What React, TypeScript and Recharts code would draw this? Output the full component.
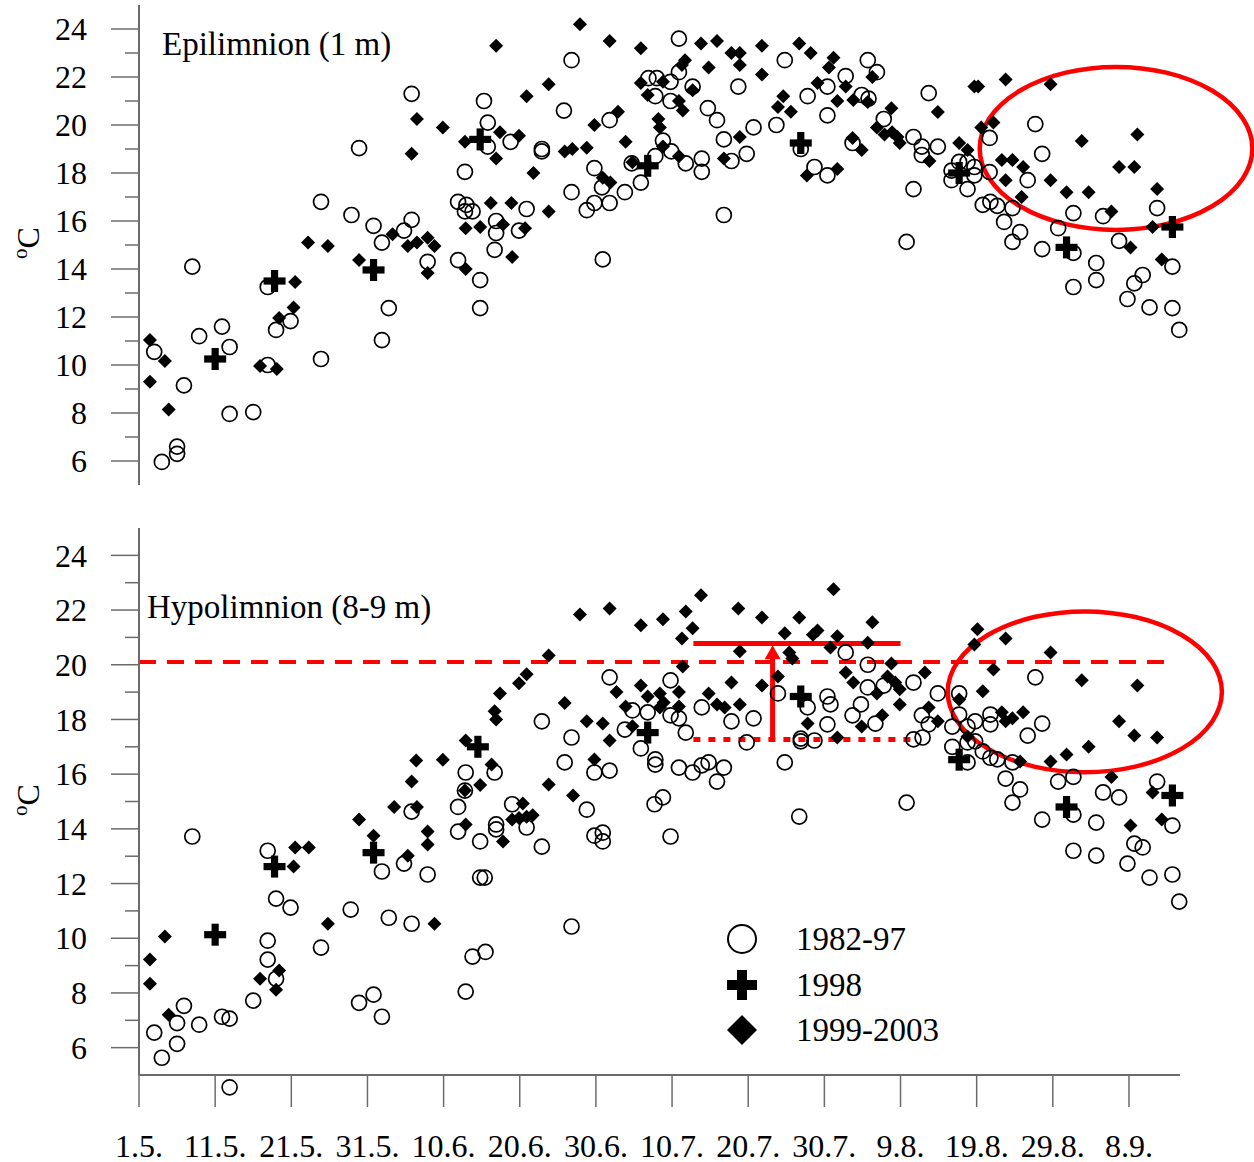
import { ScatterChart, Scatter, XAxis, YAxis, ReferenceLine, ReferenceArea, ReferenceDot, Legend } from 'recharts';

const FONT = '"Liberation Serif", "Times New Roman", serif';
const AXIS = '#6b6b6b';
const RED = '#ff0000';

// x = days since 1 May, y = water temperature (°C)
const DATE_TICKS = [0, 10, 20, 30, 40, 50, 60, 70, 80, 90, 100, 110, 120, 130];
const DATE_LABELS = ['1.5.', '11.5.', '21.5.', '31.5.', '10.6.', '20.6.', '30.6.', '10.7.', '20.7.', '30.7.', '9.8.', '19.8.', '29.8.', '8.9.'];
const TEMP_TICKS = [6, 7, 8, 9, 10, 11, 12, 13, 14, 15, 16, 17, 18, 19, 20, 21, 22, 23, 24];
const SERIES_NAMES = ['1982-97', '1998', '1999-2003'];

const epiOld: [number, number][] = [
  [2.0, 10.55], [3.0, 5.96], [5.0, 6.6], [5.0, 6.3], [5.9, 9.15], [7.0, 14.1], [7.9, 11.2], [10.9, 11.6], [11.9, 10.75], [11.9, 7.96],
  [15.0, 8.04], [16.9, 13.25], [16.9, 10.0], [18.0, 11.46], [19.9, 11.83], [23.9, 10.25], [23.9, 16.8], [27.9, 16.25], [28.9, 19.04], [30.8, 15.8],
  [31.9, 15.1], [31.9, 11.04], [32.8, 12.37], [34.8, 15.6], [35.8, 21.3], [35.8, 16.05], [37.9, 14.3], [41.9, 16.8], [43.0, 16.67], [42.8, 16.4],
  [43.8, 16.4], [42.8, 18.05], [41.9, 14.37], [44.8, 13.54], [44.8, 12.37], [45.3, 21.0], [45.8, 20.1], [45.8, 19.1], [46.7, 14.8], [46.9, 16.0],
  [46.9, 15.5], [49.9, 15.6], [48.8, 19.3], [50.9, 16.5], [52.9, 19.0], [52.9, 18.9], [55.8, 20.6], [56.8, 22.7], [56.8, 17.2], [58.8, 16.45],
  [59.8, 16.75], [61.8, 16.75], [59.8, 18.2], [60.8, 17.4], [60.9, 14.4], [61.8, 20.2], [63.8, 17.2], [64.7, 18.4], [65.9, 17.6], [66.9, 21.95],
  [68.0, 21.95], [69.8, 21.8], [70.9, 22.2], [67.8, 21.2], [69.8, 21.0], [68.8, 19.35], [69.9, 18.9], [67.8, 18.7], [70.9, 23.6], [71.8, 18.4],
  [72.7, 21.6], [73.9, 18.6], [73.9, 18.05], [74.7, 20.7], [75.9, 20.2], [76.8, 19.4], [76.8, 16.25], [77.8, 18.5], [78.7, 21.6], [79.8, 18.8],
  [80.7, 19.9], [83.7, 20.0], [84.8, 22.7], [86.9, 19.0], [87.8, 21.2], [88.7, 18.25], [90.4, 21.6], [90.4, 20.4], [90.4, 17.9], [92.8, 22.04],
  [95.7, 22.7], [96.9, 22.2], [94.9, 21.25], [95.8, 21.1], [97.8, 20.25], [93.7, 19.25], [101.7, 19.5], [102.8, 19.1], [102.8, 18.75], [104.9, 19.1],
  [103.7, 21.33], [101.7, 17.33], [100.8, 15.13], [106.7, 18.1], [107.7, 18.46], [108.8, 18.46], [109.7, 18.25], [106.7, 17.7], [108.8, 17.33], [109.7, 17.9],
  [111.7, 18.04], [111.7, 19.46], [117.7, 20.04], [118.6, 18.8], [116.7, 17.7], [110.8, 16.67], [111.8, 16.8], [112.7, 16.63], [114.7, 16.54], [113.6, 15.96],
  [115.7, 15.54], [114.7, 15.13], [120.7, 15.7], [118.6, 14.83], [122.7, 16.33], [126.6, 16.2], [128.7, 15.17], [133.7, 16.54], [122.7, 14.67], [125.7, 14.25],
  [122.7, 13.25], [125.7, 13.54], [129.8, 12.75], [130.7, 13.4], [131.8, 13.75], [132.7, 12.4], [135.7, 12.37], [136.6, 11.46], [135.7, 14.1],
];

const epi1998: [number, number][] = [
  [10.0, 10.25], [17.8, 13.5], [30.8, 13.96], [44.8, 19.4], [66.8, 18.3], [86.9, 19.25], [107.7, 18.0], [121.8, 14.9], [135.7, 15.75],
];

const epiNew: [number, number][] = [
  [1.44, 11.04], [3.4, 10.17], [1.44, 9.3], [3.9, 8.15], [15.9, 9.96], [18.1, 9.83], [20.5, 13.46], [20.3, 12.4], [18.4, 11.96], [22.2, 15.1],
  [24.8, 14.96], [28.9, 14.37], [33.3, 15.45], [35.3, 14.96], [36.5, 15.1], [37.9, 15.3], [38.8, 14.96], [37.9, 13.83], [36.5, 20.25], [39.9, 19.9],
  [35.8, 18.8], [42.8, 19.3], [42.9, 15.7], [44.8, 15.75], [42.9, 14.0], [57.9, 24.2], [46.9, 23.3], [61.8, 23.5], [65.9, 23.2], [73.8, 23.4],
  [75.9, 23.5], [77.8, 23.0], [78.9, 23.0], [78.9, 22.5], [81.8, 23.3], [81.8, 22.1], [86.7, 23.4], [88.2, 23.0], [90.6, 22.4], [89.1, 21.75],
  [53.8, 21.7], [50.9, 21.2], [71.7, 22.7], [71.3, 22.5], [74.8, 22.4], [65.9, 21.75], [66.8, 21.25], [68.8, 21.8], [72.7, 21.45], [70.9, 21.0],
  [71.4, 20.6], [62.9, 20.55], [59.8, 20.0], [68.2, 20.25], [68.4, 19.9], [84.6, 21.2], [83.9, 20.75], [85.6, 20.55], [78.9, 19.5], [63.9, 19.3],
  [47.4, 19.7], [49.9, 19.55], [46.9, 18.6], [51.8, 18.0], [55.9, 18.9], [56.9, 19.0], [58.8, 19.05], [68.8, 19.1], [70.9, 18.7], [64.8, 18.45],
  [76.8, 18.6], [87.7, 17.9], [60.9, 17.8], [61.9, 17.6], [46.2, 16.75], [48.9, 16.75], [53.8, 16.4], [47.8, 15.85], [50.7, 15.7], [49.0, 14.5],
  [91.2, 22.8], [96.3, 22.0], [92.8, 21.6], [91.7, 21.0], [93.8, 21.04], [95.7, 20.96], [98.8, 20.7], [104.9, 20.54], [96.9, 19.9], [97.9, 19.6],
  [98.9, 19.7], [99.9, 19.25], [99.6, 19.5], [93.7, 19.46], [94.9, 18.96], [103.8, 18.5], [91.7, 18.17], [109.7, 21.6], [110.2, 21.6], [113.8, 21.9],
  [119.7, 21.7], [110.6, 19.9], [112.2, 20.1], [123.8, 19.33], [131.1, 19.6], [107.7, 19.25], [108.8, 18.96], [113.3, 18.54], [114.7, 18.54], [116.1, 18.25],
  [113.8, 17.7], [119.7, 17.7], [121.8, 17.2], [124.7, 17.2], [128.7, 18.25], [130.7, 18.25], [133.7, 17.33], [115.9, 17.0], [127.7, 16.4], [133.1, 15.75],
  [130.2, 14.9], [134.3, 14.4],
];

const hypoOld: [number, number][] = [
  [2.0, 6.55], [3.0, 5.63], [5.0, 6.9], [5.0, 6.14], [5.9, 7.53], [7.0, 13.72], [7.9, 6.84], [10.9, 7.13], [11.9, 7.06], [15.0, 7.72],
  [16.9, 13.2], [16.9, 9.91], [16.9, 9.22], [18.0, 11.45], [18.0, 8.52], [19.9, 11.12], [23.9, 9.66], [27.8, 11.05], [28.9, 7.64], [30.8, 7.94],
  [31.9, 7.13], [31.9, 12.44], [32.8, 10.75], [34.8, 12.73], [35.8, 10.53], [35.8, 14.63], [37.9, 12.33], [41.9, 14.8], [41.9, 13.9], [42.9, 16.06],
  [42.8, 15.4], [42.9, 8.05], [43.8, 9.33], [45.5, 9.5], [44.8, 13.54], [44.8, 12.22], [45.4, 12.22], [46.7, 16.06], [46.9, 14.16], [46.9, 13.98],
  [49.0, 14.9], [50.9, 14.05], [52.9, 13.35], [52.9, 17.93], [55.9, 16.43], [56.8, 17.34], [56.8, 10.43], [58.8, 14.7], [59.8, 16.06], [61.8, 16.13],
  [59.8, 13.75], [60.9, 13.86], [60.9, 13.54], [61.8, 19.54], [63.8, 17.63], [64.8, 18.33], [65.9, 16.94], [66.8, 18.26], [67.8, 16.54], [67.8, 16.35],
  [68.8, 15.15], [67.7, 14.9], [69.8, 19.43], [69.8, 18.15], [70.9, 18.04], [70.9, 16.24], [71.8, 17.52], [72.7, 16.06], [73.9, 16.32], [74.8, 16.43],
  [73.9, 18.44], [69.8, 13.72], [75.9, 15.73], [76.8, 16.24], [77.8, 17.93], [79.8, 17.16], [80.7, 18.04], [83.9, 18.95], [84.8, 16.43], [86.9, 17.3],
  [86.9, 17.2], [88.7, 17.23], [87.8, 18.44], [86.7, 14.45], [90.4, 18.84], [90.4, 17.82], [92.8, 20.45], [95.7, 20.0], [95.7, 19.17], [97.8, 19.24],
  [101.7, 19.35], [104.9, 18.95], [90.8, 18.55], [94.8, 18.55], [93.7, 18.15], [96.7, 17.85], [102.8, 18.15], [103.7, 17.82], [101.7, 17.27], [102.9, 17.34],
  [107.7, 18.95], [117.7, 19.54], [106.8, 17.74], [107.7, 18.18], [108.8, 17.74], [109.8, 17.93], [111.8, 18.18], [111.8, 17.82], [118.6, 17.85], [116.7, 17.41],
  [106.8, 17.0], [108.8, 17.16], [109.8, 17.2], [110.8, 16.83], [111.8, 16.6], [112.7, 16.54], [114.7, 16.43], [108.8, 16.43], [122.7, 15.9], [120.7, 15.73],
  [113.8, 15.84], [115.7, 15.44], [114.7, 14.96], [126.6, 15.33], [128.7, 15.15], [133.7, 15.73], [100.8, 14.96], [122.7, 14.52], [118.6, 14.34], [125.7, 14.23],
  [135.7, 14.12], [122.7, 13.2], [125.7, 13.02], [130.7, 13.46], [131.8, 13.32], [129.8, 12.73], [132.7, 12.22], [135.7, 12.33], [136.6, 11.34],
];

// one 1982-97 reading sits just below the 5 °C axis floor
const hypoOldBelowAxis: [number, number][] = [[11.9, 4.55]];

const hypo1998: [number, number][] = [
  [10.0, 10.13], [17.8, 12.62], [30.8, 13.13], [44.5, 17.0], [66.8, 17.52], [86.9, 18.84], [107.7, 16.53], [121.8, 14.8], [135.7, 15.22],
];

const hypoNew: [number, number][] = [
  [1.44, 9.22], [1.44, 8.34], [3.4, 10.06], [3.9, 7.2], [15.9, 8.52], [18.0, 8.12], [18.4, 8.82], [20.5, 13.32], [22.3, 13.32], [20.3, 12.62],
  [24.8, 10.53], [28.9, 14.34], [30.8, 13.75], [33.5, 14.8], [36.5, 14.8], [35.3, 13.02], [37.9, 13.9], [37.9, 13.43], [38.8, 10.53], [35.8, 15.73],
  [36.4, 16.5], [39.9, 16.53], [42.9, 17.23], [42.8, 15.4], [44.8, 15.6], [42.9, 14.16], [46.3, 16.35], [47.8, 13.54], [49.0, 14.34], [49.9, 14.4],
  [50.9, 14.44], [51.7, 14.5], [50.4, 14.93], [73.8, 22.54], [57.9, 21.84], [61.8, 22.06], [65.9, 21.44], [68.8, 21.66], [71.8, 21.95], [72.7, 21.33],
  [71.3, 20.96], [78.7, 22.06], [81.8, 21.73], [86.7, 21.73], [84.8, 21.15], [88.5, 21.1], [89.1, 21.25], [78.9, 20.49], [85.4, 20.45], [85.8, 20.23],
  [53.8, 20.34], [71.4, 19.94], [50.9, 19.65], [49.9, 19.32], [47.4, 18.95], [46.7, 18.3], [46.9, 18.0], [55.9, 18.6], [62.7, 19.0], [65.9, 19.24],
  [66.8, 18.84], [68.4, 18.95], [68.9, 18.62], [68.4, 18.44], [70.9, 19.0], [70.9, 18.47], [63.9, 18.47], [74.8, 18.95], [75.9, 18.55], [76.9, 18.44],
  [78.9, 18.55], [77.8, 19.35], [81.8, 19.24], [83.9, 19.57], [87.8, 17.85], [58.8, 17.93], [60.9, 17.85], [61.8, 17.23], [64.8, 17.75], [59.8, 16.54],
  [53.8, 15.62], [57.0, 15.22], [91.2, 22.76], [96.3, 21.55], [91.7, 21.04], [95.7, 20.8], [90.8, 20.63], [98.8, 20.05], [92.8, 19.72], [93.8, 19.35],
  [103.2, 19.72], [98.3, 19.57], [99.3, 19.35], [99.9, 19.1], [96.9, 18.95], [99.9, 18.55], [97.6, 18.15], [94.9, 17.74], [91.7, 17.34], [103.7, 18.44],
  [104.9, 17.93], [110.1, 21.3], [109.7, 20.74], [113.8, 20.96], [119.7, 20.45], [107.7, 18.73], [110.8, 19.03], [112.2, 19.83], [123.8, 19.43], [131.1, 19.24],
  [113.3, 18.26], [113.8, 17.93], [114.7, 18.04], [116.1, 18.26], [128.7, 17.93], [130.7, 17.41], [133.7, 17.34], [124.7, 17.0], [121.8, 16.72], [119.7, 16.46],
  [115.7, 16.46], [108.8, 17.38], [127.7, 15.9], [133.1, 15.33], [130.2, 14.12], [134.3, 14.34],
];

const toPts = (arr: [number, number][]) => arr.map(([x, y]) => ({ x, y }));

const Ring = (p: any) => <circle cx={p.cx} cy={p.cy} r={7.5} fill="none" stroke="#000" strokeWidth={1.7} />;

const Diamond = (p: any) => {
  const s = 7;
  return <polygon points={`${p.cx},${p.cy - s} ${p.cx + s},${p.cy} ${p.cx},${p.cy + s} ${p.cx - s},${p.cy}`} fill="#000" />;
};

const Cross = (p: any) => {
  const a = 11;
  const t = 3.6;
  return (
    <g fill="#000">
      <rect x={p.cx - a} y={p.cy - t} width={2 * a} height={2 * t} />
      <rect x={p.cx - t} y={p.cy - a} width={2 * t} height={2 * a} />
    </g>
  );
};

const YTick = (p: any) => {
  const v = p.payload.value;
  const major = v % 2 === 0;
  return (
    <g>
      <line x1={p.x - (major ? 28 : 14)} x2={p.x} y1={p.y} y2={p.y} stroke={AXIS} strokeWidth={1.5} />
      {major && (
        <text x={p.x - 52} y={p.y} dy="0.35em" textAnchor="end" fontSize={32} fontFamily={FONT} fill="#000">
          {v}
        </text>
      )}
    </g>
  );
};

const Ellipse = (p: any) => (
  <ellipse cx={p.x + p.width / 2} cy={p.y + p.height / 2} rx={p.width / 2} ry={p.height / 2} fill="none" stroke={RED} strokeWidth={4.5} />
);

const Arrow = (p: any) => {
  const { x1, y1, y2 } = p;
  return (
    <g>
      <line x1={x1} x2={x1} y1={y1} y2={y2 + 12} stroke={RED} strokeWidth={5} />
      <polygon points={`${x1},${y2} ${x1 + 8},${y2 + 14} ${x1 - 8},${y2 + 14}`} fill={RED} />
    </g>
  );
};

const LegendBox = () => (
  <svg width={260} height={140}>
    <circle cx={17} cy={19} r={14} fill="none" stroke="#000" strokeWidth={2} />
    <g fill="#000">
      <rect x={2} y={60} width={30} height={10} />
      <rect x={12} y={50} width={10} height={30} />
    </g>
    <polygon points="17,95 32,110 17,125 2,110" fill="#000" />
    {SERIES_NAMES.map((n, i) => (
      <text key={n} x={71} y={30 + i * 45.5} fontSize={33} fontFamily={FONT} fill="#000">
        {n}
      </text>
    ))}
  </svg>
);

const yAxisProps = {
  type: 'number' as const,
  dataKey: 'y',
  domain: [5, 25],
  ticks: TEMP_TICKS,
  interval: 0 as const,
  width: 139,
  tickSize: 0,
  tickMargin: 0,
  tickLine: false,
  tick: YTick,
  axisLine: { stroke: AXIS, strokeWidth: 2 },
};

export default function App() {
  return (
    <div style={{ position: 'relative', width: 1254, height: 1162, background: '#fff', fontFamily: FONT, overflow: 'visible' }}>
      <style>{'body{margin:0;background:#fff}'}</style>

      <div style={{ position: 'absolute', left: 0, top: 0 }}>
        <ScatterChart width={1254} height={500} margin={{ top: 5, right: 74, bottom: 15, left: 0 }}>
          <XAxis type="number" dataKey="x" domain={[0, 136.7]} hide />
          <YAxis {...yAxisProps} />
          <Scatter name="1999-2003" data={toPts(epiNew)} shape={Diamond} isAnimationActive={false} />
          <Scatter name="1982-97" data={toPts(epiOld)} shape={Ring} isAnimationActive={false} />
          <Scatter name="1998" data={toPts(epi1998)} shape={Cross} isAnimationActive={false} />
          <ReferenceArea x1={110.4} x2={146.2} y1={15.63} y2={22.42} ifOverflow="visible" shape={Ellipse} />
        </ScatterChart>
      </div>

      <div style={{ position: 'absolute', left: 0, top: 500 }}>
        <ScatterChart width={1254} height={685} margin={{ top: 28, right: 74, bottom: 23, left: 0 }}>
          <XAxis
            type="number"
            dataKey="x"
            domain={[0, 136.7]}
            ticks={DATE_TICKS}
            interval={0}
            height={87}
            tickSize={32}
            tickMargin={27}
            tickFormatter={(v: number) => DATE_LABELS[DATE_TICKS.indexOf(v)]}
            tick={{ fontSize: 32, fontFamily: FONT, fill: '#000' }}
            tickLine={{ stroke: AXIS, strokeWidth: 1.5 }}
            axisLine={{ stroke: AXIS, strokeWidth: 2 }}
          />
          <YAxis {...yAxisProps} />
          <Scatter name="1999-2003" data={toPts(hypoNew)} shape={Diamond} isAnimationActive={false} />
          <Scatter name="1982-97" data={toPts(hypoOld)} shape={Ring} isAnimationActive={false} />
          <Scatter name="1998" data={toPts(hypo1998)} shape={Cross} isAnimationActive={false} />
          {hypoOldBelowAxis.map(([x, y]) => (
            <ReferenceDot key={`o-${x}`} x={x} y={y} ifOverflow="visible" shape={Ring} />
          ))}
          <ReferenceLine
            segment={[{ x: 0, y: 20.1 }, { x: 135.9, y: 20.1 }]}
            stroke={RED}
            strokeWidth={4}
            strokeDasharray="17 11"
            ifOverflow="visible"
          />
          <ReferenceLine segment={[{ x: 72.8, y: 20.78 }, { x: 100, y: 20.78 }]} stroke={RED} strokeWidth={5} ifOverflow="visible" />
          <ReferenceLine
            segment={[{ x: 72.8, y: 17.27 }, { x: 102, y: 17.27 }]}
            stroke={RED}
            strokeWidth={5}
            strokeDasharray="7 8"
            ifOverflow="visible"
          />
          <ReferenceLine segment={[{ x: 83.2, y: 17.27 }, { x: 83.2, y: 20.71 }]} ifOverflow="visible" shape={Arrow} />
          <ReferenceArea x1={106.2} x2={142.2} y1={16.07} y2={21.95} ifOverflow="visible" shape={Ellipse} />
          <Legend
            layout="horizontal"
            verticalAlign="middle"
            align="center"
            content={LegendBox}
            wrapperStyle={{ left: 725, top: 420, width: 260, height: 140 }}
          />
        </ScatterChart>
      </div>

      <svg width={1254} height={1162} style={{ position: 'absolute', left: 0, top: 0, pointerEvents: 'none' }}>
        <text x={162} y={55} fontSize={33} fontFamily={FONT} fill="#000">Epilimnion (1 m)</text>
        <text x={147} y={618} fontSize={33} fontFamily={FONT} fill="#000">Hypolimnion (8-9 m)</text>
        <text transform="rotate(-90 39 243)" x={39} y={243} textAnchor="middle" fontSize={32} fontFamily={FONT} fill="#000">
          <tspan fontSize={21} dy={-12}>o</tspan>
          <tspan dy={12}>C</tspan>
        </text>
        <text transform="rotate(-90 39 800)" x={39} y={800} textAnchor="middle" fontSize={32} fontFamily={FONT} fill="#000">
          <tspan fontSize={21} dy={-12}>o</tspan>
          <tspan dy={12}>C</tspan>
        </text>
      </svg>
    </div>
  );
}
